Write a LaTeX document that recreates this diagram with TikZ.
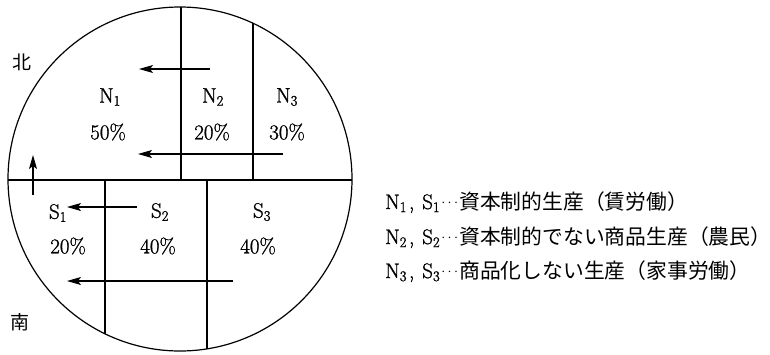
\documentclass[tikz,border=0pt]{standalone}
\usepackage{fontspec}
\setmainfont{Latin Modern Roman}[FakeBold=1.2]
\newfontfamily\cjk{Noto Sans CJK JP}
\usetikzlibrary{arrows.meta}
\newcommand{\latsz}{\fontsize{21}{24}\selectfont}
\newcommand{\cjksz}{\cjk\fontsize{20.8}{24}\selectfont}
\newcommand{\legline}[2]{{\latsz N\textsubscript{#1}\hspace{2pt},\hspace{8pt}S\textsubscript{#1}}\makebox[19pt][c]{\raisebox{2.5pt}{\fontsize{15}{16}\selectfont$\cdots$}}{\cjksz #2}}
\begin{document}
\begin{tikzpicture}[x=1pt,y=-1pt,
  ln/.style={line width=1.2pt},
  arr/.style={-{Stealth[length=14pt,width=8pt,inset=3pt]}, line width=1.1pt},
  lbl/.style={font=\fontsize{21}{24}\selectfont, inner sep=0pt, anchor=center},
  dirl/.style={font=\cjk\fontsize{19}{20}\selectfont, inner sep=0pt, anchor=center},
  leg/.style={anchor=base west, inner sep=0pt}]
\useasboundingbox (0,0) rectangle (770,354);
\fill[white] (0,0) rectangle (770,354);
\coordinate (O) at (180,179);
\draw[ln] (O) circle[radius=172pt];
\begin{scope}
  \clip (O) circle[radius=172pt];
  \draw[ln] (0,180) -- (360,180);
  \draw[ln] (181,0) -- (181,180);
  \draw[ln] (253,0) -- (253,180);
  \draw[ln] (105,180) -- (105,360);
  \draw[ln] (207,180) -- (207,360);
\end{scope}
% arrows
\coordinate (a1s) at (210,69);  \coordinate (a1e) at (139,69);
\coordinate (a2s) at (283,154); \coordinate (a2e) at (138,154);
\coordinate (a3s) at (33,195);  \coordinate (a3e) at (33,155);
\coordinate (a4s) at (137,207); \coordinate (a4e) at (67,207);
\coordinate (a5s) at (233,281); \coordinate (a5e) at (67,281);
\draw[arr] (a1s) -- (a1e);
\draw[arr] (a2s) -- (a2e);
\draw[arr] (a3s) -- (a3e);
\draw[arr] (a4s) -- (a4e);
\draw[arr] (a5s) -- (a5e);
% labels
\node[dirl] (kita) at (22,62) {北};
\node[dirl] (minami) at (20,322) {南};
\node[lbl] (n1) at (110,97) {N\textsubscript{1}};
\node[lbl] (n1p) at (108,132) {50\%};
\node[lbl] (n2) at (213,97) {N\textsubscript{2}};
\node[lbl] (n2p) at (212,132) {20\%};
\node[lbl] (n3) at (287,97) {N\textsubscript{3}};
\node[lbl] (n3p) at (287,132) {30\%};
\node[lbl] (s1) at (58,213) {S\textsubscript{1}};
\node[lbl] (s1p) at (68,246) {20\%};
\node[lbl] (s2) at (160,212) {S\textsubscript{2}};
\node[lbl] (s2p) at (158,246) {40\%};
\node[lbl] (s3) at (262,212) {S\textsubscript{3}};
\node[lbl] (s3p) at (258,246) {40\%};
% legend
\node[leg] (l1) at (385,209) {\legline{1}{資本制的生産（賃労働）}};
\node[leg] (l2) at (385,244) {\legline{2}{資本制的でない商品生産（農民）}};
\node[leg] (l3) at (385,278) {\legline{3}{商品化しない生産（家事労働）}};
\end{tikzpicture}
\end{document}
